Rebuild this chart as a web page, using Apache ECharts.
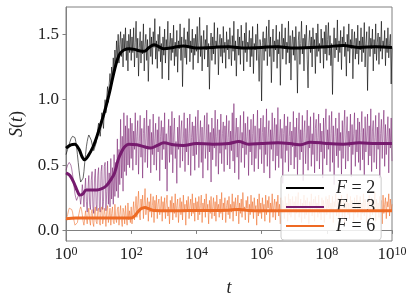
<!DOCTYPE html>
<html><head><meta charset="utf-8">
<script src="https://cdn.jsdelivr.net/npm/echarts@6/dist/echarts.min.js"></script>
<style>html,body{margin:0;padding:0;background:#fff}#c{width:415px;height:302px}</style>
</head><body><div id="c"></div>
<script>
// x positions are log10(t); axis labels are 10^n
const xMinExp = 0, xMaxExp = 10;
const yTicks = [0, 0.5, 1.0, 1.5];
const seriesNames = ['F = 2', 'F = 3', 'F = 6'];

// raw (noisy) traces, evenly spaced in log10(t) from 0 to 10 (40 samples per decade)
const rawF2 = [
0.58,0.60,0.62,0.64,0.66,0.68,0.70,0.71,0.72,0.725,0.72,0.71,0.68,0.64,0.58,0.52,0.46,0.41,0.37,0.355,
0.36,0.40,0.45,0.52,0.58,0.64,0.68,0.71,0.73,0.73,0.72,0.69,0.66,0.63,0.61,0.60,0.62,0.67,0.72,0.78,
0.82,0.76,0.72,0.80,0.90,0.84,0.78,0.92,1.00,0.90,1.02,1.10,0.98,1.12,1.20,1.08,1.25,1.15,1.32,1.20,
1.38,1.25,1.45,1.30,1.50,1.28,1.42,1.52,1.33,1.47,1.25,1.50,1.38,1.55,1.30,1.45,1.22,1.50,1.36,1.54,
1.30,1.48,1.36,1.55,1.25,1.44,1.60,1.32,1.47,1.18,1.40,1.52,1.28,1.45,1.35,1.58,1.22,1.42,1.50,1.30,
1.46,1.14,1.38,1.55,1.33,1.48,1.27,1.52,1.40,1.62,1.31,1.45,1.24,1.50,1.37,1.56,1.29,1.43,1.16,1.48,
1.34,1.54,1.28,1.46,1.38,1.60,1.15,1.42,1.51,1.30,1.47,1.36,1.57,1.26,1.44,1.33,1.53,1.21,1.45,1.39,
1.58,1.30,1.48,1.10,1.43,1.55,1.32,1.46,1.27,1.52,1.40,1.62,1.29,1.45,1.36,1.54,1.23,1.47,1.34,1.50,
1.37,1.56,1.28,1.44,1.63,1.33,1.49,1.22,1.41,1.53,1.31,1.46,1.38,1.57,1.25,1.43,1.08,1.39,1.51,1.30,
1.48,1.35,1.59,1.27,1.45,1.40,1.55,1.19,1.42,1.50,1.33,1.47,1.28,1.56,1.36,1.44,1.24,1.52,1.38,1.46,
1.31,1.55,1.42,1.26,1.49,1.37,1.60,1.30,1.45,1.18,1.41,1.54,1.34,1.48,1.27,1.57,1.39,1.45,1.22,1.51,
1.36,1.59,1.29,1.44,1.40,1.53,1.25,1.47,1.33,1.56,1.20,1.43,1.38,1.50,1.30,1.58,1.35,1.14,1.46,1.41,
0.99,1.44,1.52,1.30,1.47,1.37,1.56,1.26,1.43,1.61,1.33,1.48,1.13,1.40,1.54,1.29,1.45,1.38,1.57,1.24,
1.46,1.35,1.52,1.11,1.42,1.58,1.31,1.47,1.39,1.55,1.27,1.44,1.36,1.60,1.28,1.49,1.15,1.41,1.53,1.34,
1.48,1.30,1.56,1.38,1.05,1.45,1.52,1.27,1.43,1.60,1.35,1.47,1.22,1.50,1.40,1.57,1.31,1.09,1.44,1.53,
1.36,1.48,1.25,1.55,1.39,1.46,1.20,1.51,1.33,1.58,1.37,1.43,1.28,1.54,1.41,1.47,1.24,1.52,1.35,1.57,
1.30,1.46,1.59,1.34,1.49,1.26,1.43,1.04,1.40,1.55,1.32,1.47,1.38,1.61,1.29,1.45,1.36,1.53,1.23,1.48,
1.41,1.56,1.33,1.44,1.18,1.50,1.37,1.58,1.28,1.46,1.39,1.54,1.16,1.42,1.52,1.31,1.47,1.35,1.57,1.27,
1.45,1.38,1.55,1.29,1.48,1.36,1.59,1.25,1.43,1.52,1.07,1.40,1.56,1.33,1.47,1.39,1.54,1.22,1.46,1.35,
1.58,1.30,1.44,1.51,1.27,1.48,1.37,1.60,1.31,1.45,1.40,1.53,1.26,1.47,1.36,1.55,1.32,1.43,1.50,1.12,1.40
];
const rawF3 = [
0.46,0.48,0.50,0.51,0.52,0.52,0.50,0.47,0.43,0.38,0.33,0.28,0.25,0.23,0.22,0.24,0.28,0.26,0.20,0.26,
0.35,0.28,0.18,0.30,0.40,0.22,0.14,0.32,0.42,0.20,0.16,0.38,0.45,0.18,0.13,0.40,0.47,0.20,0.15,0.42,
0.48,0.18,0.14,0.45,0.50,0.16,0.22,0.49,0.52,0.15,0.30,0.53,0.20,0.44,0.18,0.55,0.24,0.48,0.20,0.58,
0.26,0.52,0.30,0.70,0.25,0.62,0.35,0.85,0.40,0.72,0.30,0.90,0.45,0.80,0.42,0.88,0.50,0.78,0.48,0.86,
0.55,0.82,0.46,0.76,0.62,0.90,0.50,0.72,0.84,0.43,0.68,0.88,0.56,0.78,0.40,0.74,0.86,0.52,0.70,0.92,
0.48,0.80,0.64,0.85,0.44,0.75,0.58,0.89,0.50,0.70,0.82,0.46,0.77,0.60,0.87,0.38,0.72,0.84,0.54,0.79,
0.62,0.90,0.47,0.74,0.30,0.69,0.85,0.52,0.80,0.58,0.91,0.44,0.73,0.86,0.55,0.68,0.36,0.79,0.62,0.88,
0.48,0.76,0.84,0.53,0.70,0.90,0.45,0.78,0.60,0.86,0.50,0.74,0.89,0.42,0.71,0.83,0.57,0.80,0.46,0.87,
0.58,0.76,0.92,0.48,0.70,0.84,0.52,0.79,0.40,0.73,0.88,0.55,0.67,0.90,0.46,0.81,0.60,0.75,0.37,0.86,
0.54,0.78,0.63,0.92,0.49,0.72,0.85,0.43,0.77,0.59,0.89,0.51,0.74,0.83,0.45,0.80,0.62,0.88,0.50,0.71,
0.84,0.47,0.76,0.61,0.90,0.53,0.97,0.44,0.73,0.86,0.56,0.79,0.39,0.70,0.88,0.52,0.75,0.63,0.91,0.48,
0.82,0.58,0.72,0.87,0.42,0.77,0.60,0.85,0.50,0.74,0.89,0.45,0.80,0.55,0.68,0.92,0.47,0.78,0.62,0.86,
0.51,0.75,0.88,0.44,0.79,0.58,0.93,0.49,0.71,0.84,0.40,0.77,0.62,0.90,0.53,0.73,0.86,0.46,0.81,0.57,
0.94,0.48,0.70,0.85,0.55,0.78,0.36,0.74,0.89,0.52,0.80,0.61,0.87,0.45,0.72,0.83,0.50,0.76,0.64,0.91,
0.47,0.79,0.56,0.86,0.42,0.73,0.90,0.54,0.77,0.60,0.88,0.38,0.75,0.84,0.51,0.70,0.92,0.46,0.80,0.63,
0.87,0.49,0.74,0.58,0.90,0.44,0.78,0.85,0.53,0.71,0.89,0.47,0.82,0.60,0.76,0.40,0.86,0.55,0.79,0.93,
0.50,0.77,0.62,0.88,0.45,0.74,0.91,0.52,0.80,0.35,0.72,0.86,0.57,0.78,0.48,0.90,0.61,0.75,0.43,0.84,
0.55,0.79,0.92,0.47,0.73,0.87,0.53,0.76,0.64,0.89,0.41,0.81,0.58,0.74,0.90,0.49,0.77,0.60,0.86,0.52,
0.83,0.46,0.75,0.91,0.54,0.78,0.42,0.87,0.60,0.73,0.89,0.50,0.80,0.57,0.93,0.45,0.76,0.84,0.52,0.71,
0.88,0.47,0.79,0.62,0.90,0.40,0.74,0.85,0.55,0.77,0.92,0.49,0.81,0.58,0.72,0.87,0.44,0.78,0.63,0.86,0.53
];
const rawF6 = [
0.08,0.10,0.12,0.15,0.17,0.18,0.18,0.16,0.14,0.10,0.07,0.04,0.03,0.04,0.06,0.10,0.13,0.16,0.18,0.16,
0.12,0.07,0.04,0.09,0.15,0.10,0.05,0.12,0.17,0.08,0.04,0.13,0.16,0.06,0.03,0.14,0.18,0.07,0.05,0.15,
0.17,0.06,0.04,0.16,0.18,0.05,0.09,0.17,0.12,0.03,0.15,0.19,0.06,0.11,0.17,0.04,0.13,0.18,0.07,0.05,
0.20,0.10,0.06,0.16,0.18,0.04,0.12,0.19,0.08,0.03,0.17,0.14,0.05,0.19,0.10,0.04,0.21,0.08,0.15,0.06,
0.18,0.05,0.14,0.22,0.08,0.17,0.26,0.10,0.20,0.30,0.12,0.08,0.24,0.16,0.27,0.09,0.21,0.32,0.12,0.18,
0.25,0.07,0.22,0.14,0.28,0.10,0.19,0.26,0.06,0.23,0.15,0.27,0.09,0.20,0.24,0.12,0.17,0.26,0.07,0.22,
0.14,0.25,0.09,0.20,0.27,0.11,0.18,0.05,0.23,0.15,0.26,0.08,0.21,0.13,0.28,0.10,0.19,0.24,0.06,0.17,
0.25,0.12,0.22,0.08,0.27,0.14,0.20,0.04,0.23,0.16,0.26,0.09,0.19,0.24,0.11,0.28,0.13,0.21,0.07,0.25,
0.15,0.22,0.08,0.26,0.12,0.19,0.27,0.06,0.21,0.14,0.24,0.10,0.28,0.16,0.20,0.05,0.23,0.13,0.26,0.09,
0.18,0.25,0.11,0.22,0.07,0.27,0.15,0.20,0.10,0.24,0.13,0.29,0.08,0.21,0.16,0.25,0.06,0.19,0.23,0.12,
0.26,0.09,0.20,0.14,0.28,0.07,0.22,0.16,0.25,0.11,0.19,0.27,0.05,0.21,0.13,0.24,0.10,0.29,0.15,0.18,
0.08,0.23,0.17,0.26,0.06,0.20,0.12,0.27,0.14,0.22,0.09,0.25,0.16,0.19,0.04,0.24,0.11,0.28,0.13,0.21,
0.09,0.25,0.15,0.20,0.07,0.27,0.12,0.23,0.17,0.26,0.06,0.21,0.14,0.28,0.10,0.19,0.24,0.08,0.22,0.16,
0.27,0.11,0.20,0.05,0.25,0.13,0.23,0.18,0.09,0.26,0.15,0.21,0.07,0.28,0.12,0.24,0.10,0.19,0.26,0.14,
0.22,0.08,0.26,0.13,0.20,0.29,0.10,0.17,0.24,0.06,0.21,0.15,0.27,0.09,0.23,0.12,0.25,0.18,0.05,0.22,
0.14,0.28,0.11,0.20,0.24,0.07,0.26,0.16,0.21,0.10,0.27,0.13,0.19,0.08,0.25,0.15,0.23,0.06,0.20,0.26,
0.12,0.24,0.17,0.27,0.09,0.21,0.14,0.26,0.06,0.22,0.18,0.28,0.11,0.20,0.25,0.08,0.23,0.15,0.27,0.10,
0.19,0.24,0.05,0.22,0.16,0.28,0.12,0.21,0.09,0.26,0.14,0.23,0.18,0.07,0.25,0.13,0.20,0.27,0.10,0.22,
0.16,0.26,0.08,0.21,0.13,0.28,0.11,0.24,0.18,0.06,0.23,0.15,0.27,0.09,0.20,0.25,0.12,0.22,0.17,0.29,
0.07,0.24,0.14,0.21,0.10,0.26,0.16,0.23,0.05,0.27,0.13,0.20,0.25,0.09,0.22,0.18,0.28,0.11,0.24,0.15,0.20
];

// smoothed traces: log10(t) positions and values
const smoothF2T = [0,0.15,0.27,0.40,0.50,0.57,0.68,0.83,0.95,1.05,1.15,1.23,1.32,1.40,1.50,1.58,1.66,1.78,1.94,2.10,2.24,2.40,2.55,2.70,2.85,3.0,3.3,3.6,4.0,4.5,5.0,5.5,6.0,6.5,7.0,7.5,8.0,8.5,9.0,9.5,10];
const smoothF2V = [0.63,0.655,0.66,0.62,0.56,0.54,0.57,0.64,0.72,0.80,0.88,0.95,1.04,1.13,1.24,1.31,1.355,1.38,1.39,1.385,1.375,1.37,1.40,1.42,1.405,1.39,1.40,1.41,1.395,1.40,1.405,1.395,1.40,1.405,1.395,1.40,1.405,1.415,1.40,1.405,1.40];
const smoothF3T = [0,0.12,0.25,0.35,0.43,0.52,0.62,0.80,0.95,1.10,1.23,1.38,1.49,1.60,1.70,1.80,1.92,2.18,2.40,2.60,2.80,3.0,3.3,3.6,4.0,4.5,5.0,5.3,5.6,6.0,6.5,7.0,7.2,7.5,8.0,8.5,9.0,9.5,10];
const smoothF3V = [0.44,0.42,0.36,0.30,0.27,0.28,0.31,0.31,0.31,0.32,0.34,0.39,0.44,0.54,0.60,0.64,0.66,0.655,0.64,0.63,0.65,0.67,0.655,0.65,0.665,0.66,0.665,0.68,0.66,0.665,0.67,0.66,0.655,0.675,0.665,0.66,0.67,0.665,0.665];
const smoothF6T = [0,0.3,0.8,1.5,1.85,2.0,2.1,2.2,2.3,2.42,2.55,2.7,3.2,3.8,4.5,5.0,5.3,5.6,6.0,7.0,8.0,9.0,10];
const smoothF6V = [0.09,0.095,0.094,0.094,0.095,0.095,0.11,0.14,0.165,0.175,0.165,0.152,0.15,0.152,0.152,0.155,0.16,0.152,0.15,0.15,0.15,0.15,0.15];

const colors = ['#000000', '#761b6e', '#ee6a24'];
const rawColors = ['rgba(0,0,0,0.6)', 'rgba(118,27,110,0.55)', 'rgba(238,106,36,0.55)'];

function rawPairs(vals) {
  const step = (xMaxExp - xMinExp) / (vals.length - 1);
  return vals.map((v, i) => [xMinExp + i * step, v]);
}
function zipPairs(t, v) { return t.map((x, i) => [x, v[i]]); }

const serif = 'Liberation Serif, DejaVu Serif, serif';
const chart = echarts.init(document.getElementById('c'), null, {renderer: 'canvas'});
const raws = [rawF2, rawF3, rawF6];
const smooths = [[smoothF2T, smoothF2V], [smoothF3T, smoothF3V], [smoothF6T, smoothF6V]];
const series = [];
raws.forEach((r, i) => series.push({
  name: 'raw' + i, type: 'line', data: rawPairs(r), symbol: 'none', silent: true,
  lineStyle: {color: rawColors[i], width: 1}, z: 2, animation: false
}));
smooths.forEach((s, i) => series.push({
  name: seriesNames[i], type: 'line', data: zipPairs(s[0], s[1]), symbol: 'none', smooth: 0.35,
  lineStyle: {color: colors[i], width: 3}, itemStyle: {color: colors[i]}, z: 5, animation: false
}));

chart.setOption({
  animation: false,
  grid: {left: 61, top: 7, width: 331, height: 241.7, show: true, borderColor: '#808080', borderWidth: 1},
  xAxis: {
    type: 'value', min: xMinExp, max: xMaxExp, interval: 2,
    axisLine: {show: true, lineStyle: {color: '#808080'}},
    axisTick: {show: true, inside: false, length: 3.5, lineStyle: {color: '#808080'}},
    splitLine: {show: false},
    axisLabel: {
      margin: 5, color: '#222',
      formatter: v => '{b|10}{s|' + v + '}',
      rich: {
        b: {fontFamily: serif, fontSize: 17, color: '#222', verticalAlign: 'bottom'},
        s: {fontFamily: serif, fontSize: 12, color: '#222', verticalAlign: 'top'}
      }
    },
    name: '{i|t}', nameLocation: 'middle', nameGap: 38,
    nameTextStyle: {rich: {i: {fontFamily: serif, fontStyle: 'italic', fontSize: 18, color: '#222'}}}
  },
  yAxis: {
    type: 'value', min: -0.081, max: 1.709,
    axisLine: {show: true, lineStyle: {color: '#808080'}},
    axisTick: {show: true, inside: false, length: 3.5, customValues: yTicks, lineStyle: {color: '#808080'}},
    splitLine: {show: false},
    axisLabel: {
      customValues: yTicks, margin: 7, color: '#222', fontFamily: serif, fontSize: 17,
      formatter: v => Number(v).toFixed(1)
    },
    name: '{i|S}{n|(}{i|t}{n|)}', nameLocation: 'middle', nameGap: 40,
    nameTextStyle: {rich: {
      i: {fontFamily: serif, fontStyle: 'italic', fontSize: 18, color: '#222'},
      n: {fontFamily: serif, fontSize: 18, color: '#222'}
    }}
  },
  legend: {
    data: seriesNames, orient: 'vertical', left: 281, top: 175,
    padding: [4, 6, 5, 4], itemWidth: 38, itemHeight: 14, itemGap: 1,
    itemStyle: {color: 'rgba(0,0,0,0)', borderColor: 'rgba(0,0,0,0)', borderWidth: 0},
    backgroundColor: 'rgba(255,255,255,0.85)', borderColor: '#cccccc', borderWidth: 1, borderRadius: 3,
    formatter: name => '{i|F} = ' + name.split('= ')[1],
    textStyle: {fontFamily: serif, fontSize: 18, color: '#222', padding: [0, 0, 0, 7],
      rich: {i: {fontFamily: serif, fontStyle: 'italic', fontSize: 18, color: '#222'}}}
  },
  series: series
});
</script></body></html>
